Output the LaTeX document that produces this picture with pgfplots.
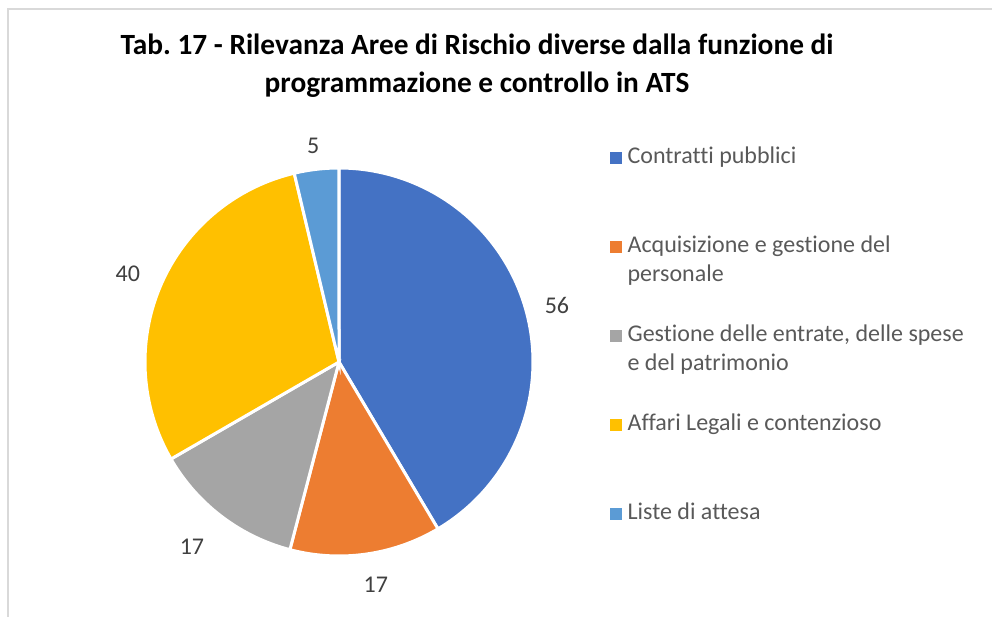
\documentclass[border=0pt]{standalone}
\usepackage{pgfplots}
\pgfplotsset{compat=1.18}
\usepackage{pgfplotstable}
\usepackage{fontspec}
\setmainfont{Carlito}[Ligatures=NoCommon]
\frenchspacing
\definecolor{cA}{HTML}{4472C4}
\definecolor{cB}{HTML}{ED7D31}
\definecolor{cC}{HTML}{A5A5A5}
\definecolor{cD}{HTML}{FFC000}
\definecolor{cE}{HTML}{5B9BD5}
\definecolor{legtext}{HTML}{595959}
\definecolor{labtext}{HTML}{404040}
\definecolor{frame}{HTML}{D9D9D9}

\pgfplotstableread{
idx value
0 56
1 17
2 17
3 40
4 5
}\datatable
\pgfplotstablegetelem{0}{value}\of\datatable\let\vA\pgfplotsretval
\pgfplotstablegetelem{1}{value}\of\datatable\let\vB\pgfplotsretval
\pgfplotstablegetelem{2}{value}\of\datatable\let\vC\pgfplotsretval
\pgfplotstablegetelem{3}{value}\of\datatable\let\vD\pgfplotsretval
\pgfplotstablegetelem{4}{value}\of\datatable\let\vE\pgfplotsretval
\pgfmathsetmacro\total{\vA+\vB+\vC+\vD+\vE}
\pgfmathsetmacro\aA{90}
\pgfmathsetmacro\aB{\aA-\vA/\total*360}
\pgfmathsetmacro\aC{\aB-\vB/\total*360}
\pgfmathsetmacro\aD{\aC-\vC/\total*360}
\pgfmathsetmacro\aE{\aD-\vD/\total*360}
\pgfmathsetmacro\aF{\aE-\vE/\total*360}
\pgfmathsetmacro\mA{(\aA+\aB)/2}
\pgfmathsetmacro\mB{(\aB+\aC)/2+1.5}
\pgfmathsetmacro\mC{(\aC+\aD)/2-1.6}
\pgfmathsetmacro\mD{(\aD+\aE)/2}
\pgfmathsetmacro\mE{(\aE+\aF)/2}
\def\cx{339}\def\cy{255}\def\R{194}
\newcommand\lab[3]{\node at (axis cs:{\cx+#2*cos(#1)},{\cy-3+#2*sin(#1)}) {#3};}
\newcommand\legimg[1]{\fill[#1] (0pt,20.9pt) rectangle (6.75pt,27.65pt);}
\newcommand\legentry[1]{\parbox[t]{270pt}{#1}}

\begin{document}
\begin{tikzpicture}
\useasboundingbox (0,0) rectangle (744pt,462.75pt);
\begin{axis}[
  at={(0,0)}, anchor=origin,
  x=0.75pt, y=0.75pt,
  xmin=0, xmax=992, ymin=0, ymax=617,
  hide axis, clip=false,
  legend cell align=left,
  legend style={
    at={(axis cs:610,471)}, anchor=north west,
    draw=none, fill=none, inner sep=0pt,
    row sep=0pt, column sep=4pt,
    font=\fontsize{18}{21.75}\selectfont\color{legtext},
    nodes={inner sep=0pt, text height=13pt, text depth=53.75pt},
  },
]
\addplot[fill=cA, draw=white, line width=2.25pt, domain=\aB:\aA, samples=100,
  legend image code/.code={\legimg{cA}}]
  ({\cx+\R*cos(x)},{\cy+\R*sin(x)}) -- (axis cs:\cx,\cy) -- cycle;
\addlegendentry{\legentry{Contratti pubblici}}
\addplot[fill=cB, draw=white, line width=2.25pt, domain=\aC:\aB, samples=40,
  legend image code/.code={\legimg{cB}}]
  ({\cx+\R*cos(x)},{\cy+\R*sin(x)}) -- (axis cs:\cx,\cy) -- cycle;
\addlegendentry{\legentry{Acquisizione e gestione del\\personale}}
\addplot[fill=cC, draw=white, line width=2.25pt, domain=\aD:\aC, samples=40,
  legend image code/.code={\legimg{cC}}]
  ({\cx+\R*cos(x)},{\cy+\R*sin(x)}) -- (axis cs:\cx,\cy) -- cycle;
\addlegendentry{\legentry{Gestione delle entrate, delle spese\\e del patrimonio}}
\addplot[fill=cD, draw=white, line width=2.25pt, domain=\aE:\aD, samples=80,
  legend image code/.code={\legimg{cD}}]
  ({\cx+\R*cos(x)},{\cy+\R*sin(x)}) -- (axis cs:\cx,\cy) -- cycle;
\addlegendentry{\legentry{Affari Legali e contenzioso}}
\addplot[fill=cE, draw=white, line width=2.25pt, domain=\aF:\aE, samples=20,
  legend image code/.code={\legimg{cE}}]
  ({\cx+\R*cos(x)},{\cy+\R*sin(x)}) -- (axis cs:\cx,\cy) -- cycle;
\addlegendentry{\legentry{Liste di attesa}}

\begin{scope}[every node/.style={font=\fontsize{18}{21.75}\selectfont, text=labtext}]
\lab{\mA}{226}{\vA}
\lab{\mB}{223}{\vB}
\lab{\mC}{234}{\vC}
\lab{\mD}{230}{\vD}
\lab{\mE}{221}{\vE}
\end{scope}

\node[align=center, font=\bfseries\fontsize{22}{28.5}\selectfont] at (axis cs:477,551)
  {Tab. 17 - Rilevanza Aree di Rischio diverse dalla funzione di\\programmazione e controllo in ATS};
\draw[frame, line width=1pt] (axis cs:8,0) -- (axis cs:8,608) -- (axis cs:992,608);
\end{axis}
\end{tikzpicture}
\end{document}
